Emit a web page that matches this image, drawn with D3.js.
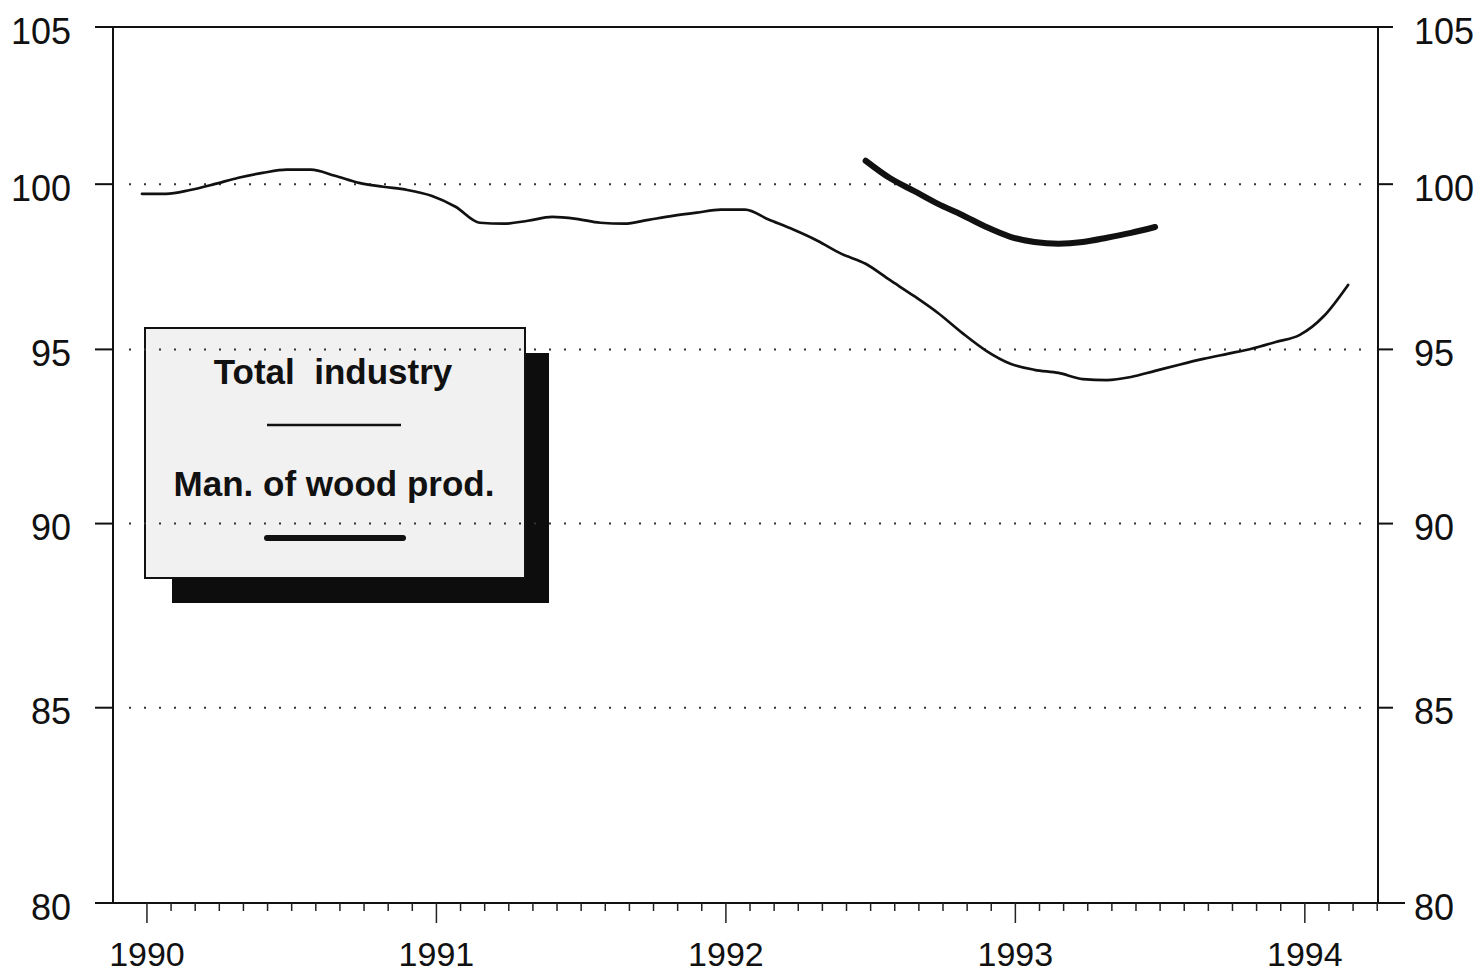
<!DOCTYPE html>
<html>
<head>
<meta charset="utf-8">
<script src="https://cdn.jsdelivr.net/npm/d3@7"></script>
<style>
  html, body { margin: 0; padding: 0; background: #ffffff; }
  svg { display: block; }
  text { font-family: "Liberation Sans", Arial, Helvetica, sans-serif; fill: #111; white-space: pre; }
</style>
</head>
<body>
<div id="chart"></div>
<script>
// ---------------- DATA ----------------
// Monthly index values, starting January 1990
const startYear = 1990;
const totalIndustry = [
  99.70, 99.70, 99.82, 100.00, 100.20, 100.35, 100.45, 100.45, 100.26, 100.04, 99.92, 99.82,   // 1990
  99.64, 99.30, 98.81, 98.78, 98.87, 98.99, 98.93, 98.81, 98.78, 98.90, 99.02, 99.12,          // 1991
  99.21, 99.21, 98.90, 98.60, 98.26, 97.86, 97.56, 97.07, 96.59, 96.08, 95.49, 94.96,          // 1992
  94.58, 94.40, 94.31, 94.13, 94.10, 94.19, 94.37, 94.55, 94.72, 94.87, 95.02, 95.22,          // 1993
  95.43, 95.99, 96.92                                                                           // 1994
];
// Manufacture of wood products: July 1992 (month index 30) to July 1993 (index 42)
const woodStartIndex = 30;
const woodProducts = [100.73, 100.19, 99.79, 99.39, 99.05, 98.68, 98.38, 98.22, 98.17, 98.22, 98.35, 98.50, 98.68];

const yTicks = [80, 85, 90, 95, 100, 105];
const gridValues = [85, 90, 95, 100];
const yearTicks = [1990, 1991, 1992, 1993, 1994];
const legendLabels = ["Total  industry", "Man. of wood prod."];

// ---------------- LAYOUT ----------------
const W = 1475, H = 974;
const plot = { left: 113, right: 1378, top: 27, bottom: 903 };

const x = d3.scaleLinear().domain([1989.9, 1994.27]).range([plot.left, plot.right]);
const y = d3.scaleLog().domain([80, 105]).range([plot.bottom, plot.top]);

const svg = d3.select("#chart").append("svg").attr("width", W).attr("height", H);
svg.append("rect").attr("width", W).attr("height", H).attr("fill", "#ffffff");

// ---------------- LEGEND (drawn under gridlines) ----------------
const lg = svg.append("g");
const box = { x: 145, y: 328, w: 380, h: 250, off: 25 };
lg.append("rect").attr("x", box.x + 27).attr("y", box.y + box.off).attr("width", box.w - 3).attr("height", box.h)
  .attr("fill", "#0d0d0d");
lg.append("rect").attr("x", box.x).attr("y", box.y).attr("width", box.w).attr("height", box.h)
  .attr("fill", "#f1f1f1").attr("stroke", "#111").attr("stroke-width", 2);
lg.append("text").attr("x", 333).attr("y", 384).attr("text-anchor", "middle")
  .attr("font-size", 35).attr("font-weight", "bold").text(legendLabels[0]);
lg.append("line").attr("x1", 267).attr("x2", 401).attr("y1", 425).attr("y2", 425)
  .attr("stroke", "#111").attr("stroke-width", 2.5);
lg.append("text").attr("x", 334).attr("y", 496).attr("text-anchor", "middle")
  .attr("font-size", 35).attr("font-weight", "bold").text(legendLabels[1]);
lg.append("line").attr("x1", 267).attr("x2", 403).attr("y1", 538).attr("y2", 538)
  .attr("stroke", "#111").attr("stroke-width", 6).attr("stroke-linecap", "round");

// ---------------- GRIDLINES ----------------
svg.append("g").selectAll("line").data(gridValues).join("line")
  .attr("x1", 129).attr("x2", plot.right - 4)
  .attr("y1", d => y(d)).attr("y2", d => y(d))
  .attr("stroke", "#333").attr("stroke-width", 2)
  .attr("stroke-dasharray", "2 13");

// ---------------- FRAME / AXES ----------------
const frame = svg.append("g").attr("stroke", "#111").attr("stroke-width", 2).attr("fill", "none");
frame.append("line").attr("x1", 95).attr("x2", 1393).attr("y1", plot.top).attr("y2", plot.top);
frame.append("line").attr("x1", 97).attr("x2", 1405).attr("y1", plot.bottom).attr("y2", plot.bottom);
frame.append("line").attr("x1", plot.left).attr("x2", plot.left).attr("y1", plot.top).attr("y2", plot.bottom);
frame.append("line").attr("x1", plot.right).attr("x2", plot.right).attr("y1", plot.top).attr("y2", plot.bottom);

// y ticks both sides
frame.append("g").selectAll("line").data(yTicks).join("line")
  .attr("x1", 95).attr("x2", plot.left).attr("y1", d => y(d)).attr("y2", d => y(d));
frame.append("g").selectAll("line").data(yTicks).join("line")
  .attr("x1", plot.right).attr("x2", 1393).attr("y1", d => y(d)).attr("y2", d => y(d));

svg.append("g").selectAll("text").data(yTicks).join("text")
  .attr("x", 71).attr("y", d => y(d) + 4).attr("dy", "0.35em")
  .attr("text-anchor", "end").attr("font-size", 36).text(d => d);
svg.append("g").selectAll("text").data(yTicks).join("text")
  .attr("x", 1414).attr("y", d => y(d) + 4).attr("dy", "0.35em")
  .attr("text-anchor", "start").attr("font-size", 36).text(d => d);

// x ticks: monthly minor, yearly major (tick rule shifted slightly right, as printed)
const tickShift = 5;
const monthTicks = d3.range(0, 52).map(i => startYear + i / 12);
const xt = svg.append("g").attr("transform", `translate(${tickShift},0)`)
  .attr("stroke", "#222").attr("stroke-width", 1.5);
xt.selectAll("line").data(monthTicks).join("line")
  .attr("x1", d => x(d)).attr("x2", d => x(d))
  .attr("y1", plot.bottom).attr("y2", (d, i) => i % 12 === 0 ? plot.bottom + 20 : plot.bottom + 8);

svg.append("g").attr("transform", `translate(${tickShift},0)`)
  .selectAll("text").data(yearTicks).join("text")
  .attr("x", d => x(d)).attr("y", 966).attr("text-anchor", "middle")
  .attr("font-size", 34).text(d => d);

// ---------------- LINES ----------------
const line = d3.line().x(d => x(d[0])).y(d => y(d[1])).curve(d3.curveMonotoneX);
const totalPts = totalIndustry.map((v, i) => [startYear + i / 12, v]);
const woodPts = woodProducts.map((v, i) => [startYear + (woodStartIndex + i) / 12, v]);

svg.append("path").datum(totalPts).attr("d", line)
  .attr("fill", "none").attr("stroke", "#111").attr("stroke-width", 2.7)
  .attr("stroke-linejoin", "round").attr("stroke-linecap", "round");
svg.append("path").datum(woodPts).attr("d", line)
  .attr("fill", "none").attr("stroke", "#111").attr("stroke-width", 6)
  .attr("stroke-linejoin", "round").attr("stroke-linecap", "round");
</script>
</body>
</html>
